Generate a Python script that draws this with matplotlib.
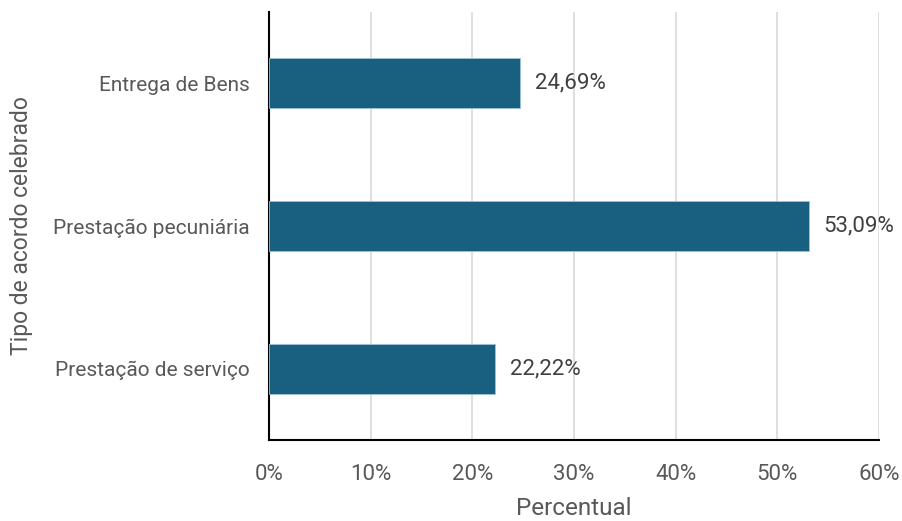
import matplotlib.pyplot as plt
import numpy as np

# categories listed bottom to top
categorias = ['Prestação de serviço', 'Prestação pecuniária', 'Entrega de Bens']
percentuais = [22.22, 53.09, 24.69]
xticks = [0, 10, 20, 30, 40, 50, 60]

plt.rcParams['font.family'] = ['Roboto', 'DejaVu Sans']
cinza = '#595959'

fig = plt.figure(figsize=(9.03, 5.21), dpi=100)
ax = fig.add_axes([269 / 903, 81 / 521, 610 / 903, 428 / 521])

y = np.arange(len(categorias))
ax.barh(y, percentuais, height=0.35, color='#185F80', edgecolor='#9fc3d6',
        linewidth=0.6, zorder=3)

for yi, v in zip(y, percentuais):
    ax.text(v + 1.45, yi, f'{v:.2f}%'.replace('.', ','), va='center', ha='left',
            fontsize=16, color='#404040')

ax.set_xlim(0, 60)
ax.set_ylim(-0.5, 2.5)
ax.set_xticks(xticks)
ax.set_xticklabels([f'{t}%' for t in xticks])
ax.set_yticks(y)
ax.set_yticklabels(categorias)
ax.tick_params(length=0, labelcolor=cinza)
ax.tick_params(axis='x', pad=17, labelsize=16)
ax.tick_params(axis='y', pad=14, labelsize=15)

ax.grid(axis='x', color='#d9d9d9', linewidth=1.2, zorder=0)
for s in ['top', 'right']:
    ax.spines[s].set_visible(False)
ax.spines['left'].set_color('black')
ax.spines['bottom'].set_color('black')
ax.spines['left'].set_linewidth(1.5)
ax.spines['bottom'].set_linewidth(1.5)

ax.set_xlabel('Percentual', fontsize=17.5, color=cinza, labelpad=9)
ax.set_ylabel('Tipo de acordo celebrado', fontsize=16.5, color=cinza, labelpad=14)

fig.savefig('out.png', dpi=100)
